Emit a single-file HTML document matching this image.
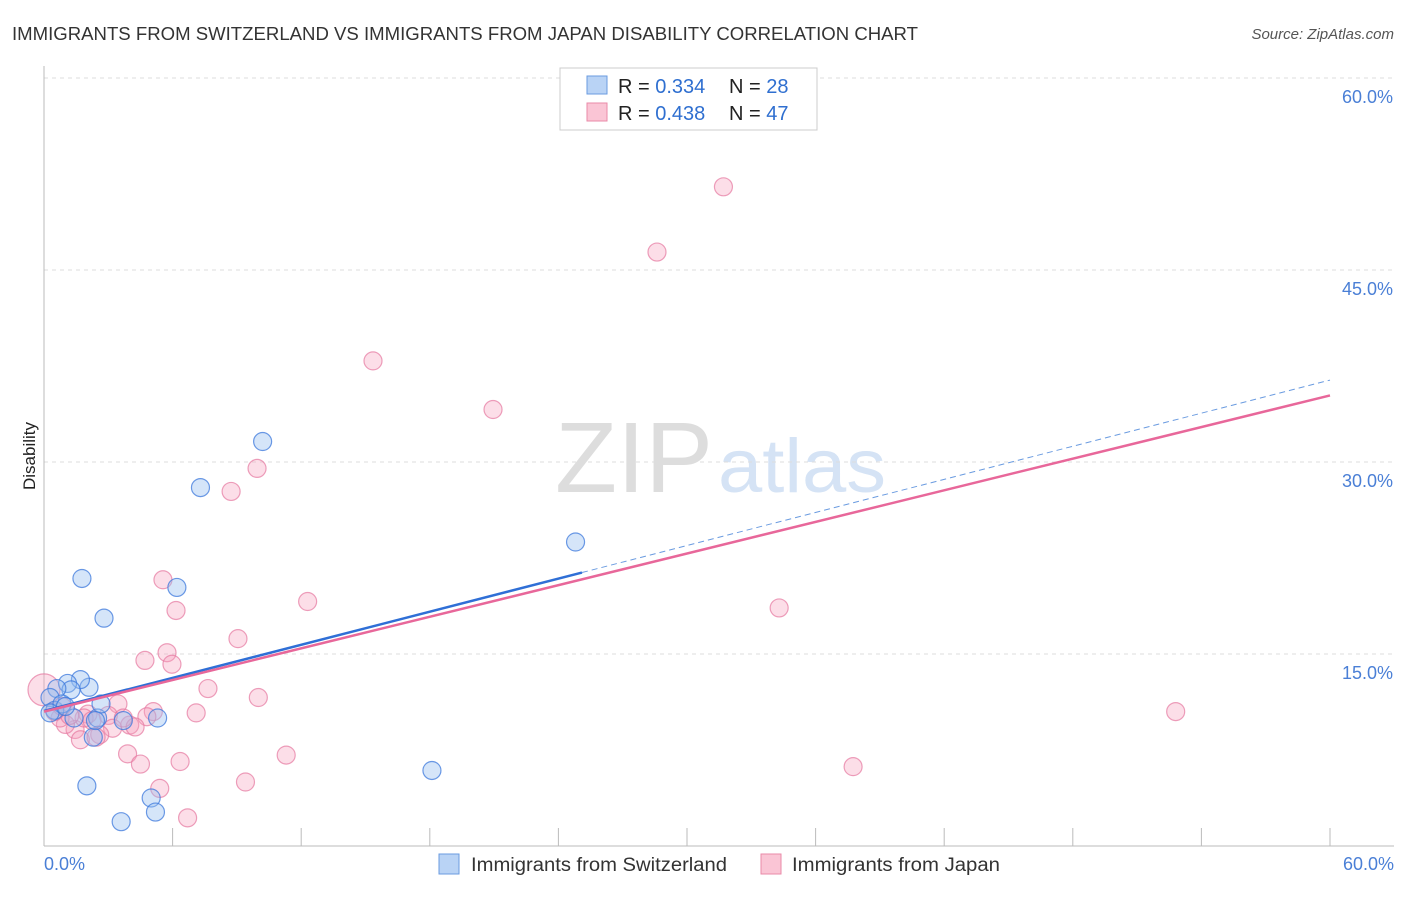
<!DOCTYPE html>
<html><head><meta charset="utf-8"><style>
body{margin:0;background:#fff;font-family:"Liberation Sans",sans-serif;}
svg text{font-family:"Liberation Sans",sans-serif;}
</style></head><body>
<svg width="1406" height="892" xmlns="http://www.w3.org/2000/svg">
<text x="12" y="40" font-size="18" fill="#333" textLength="906" lengthAdjust="spacingAndGlyphs">IMMIGRANTS FROM SWITZERLAND VS IMMIGRANTS FROM JAPAN DISABILITY CORRELATION CHART</text>
<text x="1394" y="39" font-size="15" fill="#555" font-style="italic" text-anchor="end">Source: ZipAtlas.com</text>
<text x="35" y="456" font-size="17" fill="#222" text-anchor="middle" transform="rotate(-90 35 456)">Disability</text>
<text x="713" y="492" font-size="100" fill="#ddd" text-anchor="end" font-family="Liberation Serif" textLength="158" lengthAdjust="spacingAndGlyphs">ZIP</text>
<text x="718" y="492" font-size="76" fill="#d5e3f5" textLength="168" lengthAdjust="spacingAndGlyphs">atlas</text>
<g id="grid"></g><g id="axes"></g><g id="pts"></g><g id="lines"></g>
<g>
<rect x="560" y="68" width="257" height="62" fill="#fff" stroke="#ccc"/>
<rect x="587" y="76" width="20" height="18" fill="#b9d3f5" stroke="#6a9be0"/>
<rect x="587" y="103" width="20" height="18" fill="#fac5d5" stroke="#e98aa8"/>
<text x="618" y="93" font-size="20" fill="#222">R = <tspan fill="#2f6fd0">0.334</tspan></text>
<text x="729" y="93" font-size="20" fill="#222">N = <tspan fill="#2f6fd0">28</tspan></text>
<text x="618" y="120" font-size="20" fill="#222">R = <tspan fill="#2f6fd0">0.438</tspan></text>
<text x="729" y="120" font-size="20" fill="#222">N = <tspan fill="#2f6fd0">47</tspan></text>
</g>
<g>
<rect x="439" y="854" width="20" height="20" fill="#b9d3f5" stroke="#6a9be0"/>
<text x="471" y="871" font-size="19" fill="#333" textLength="256" lengthAdjust="spacingAndGlyphs">Immigrants from Switzerland</text>
<rect x="761" y="854" width="20" height="20" fill="#fac5d5" stroke="#e98aa8"/>
<text x="792" y="871" font-size="19" fill="#333" textLength="208" lengthAdjust="spacingAndGlyphs">Immigrants from Japan</text>
</g>
</svg>
<script>
const yTicks=[15,30,45,60];
const yTickLabels=["15.0%","30.0%","45.0%","60.0%"];
const xTickLabels=["0.0%","60.0%"];
const swX=[1.77,2.8,6.2,7.3,10.2,24.8,18.1,2.0,3.6,5.0,5.2,5.3,3.7,2.3,2.5,2.1,1.7,1.1,1.26,0.6,0.28,0.5,0.84,1.4,2.66,0.28,2.4,1.0];
const swY=[20.9,17.8,20.2,28.0,31.6,23.75,5.9,4.7,1.9,3.75,2.65,10.0,9.8,8.5,10.0,12.4,13.0,12.7,12.2,12.3,11.6,10.6,11.1,10.0,11.1,10.4,9.8,10.9];
const jpX=[31.7,28.6,15.35,20.95,9.94,8.73,5.55,6.16,12.3,34.3,9.05,5.74,4.71,5.97,7.65,10.0,7.1,52.8,5.1,4.8,3.45,3.0,2.05,4.0,3.2,4.25,2.6,1.45,1.0,0.75,1.7,2.43,3.9,4.5,6.35,11.3,37.75,9.4,5.4,6.7,1.87,1.2,0.5,3.7,2.24,0.84,0];
const jpY=[51.5,46.4,37.9,34.1,29.5,27.7,20.8,18.4,19.1,18.6,16.2,15.1,14.5,14.2,12.3,11.6,10.4,10.5,10.5,10.1,11.1,10.2,10.3,9.45,9.2,9.3,8.7,9.1,9.5,10.0,8.3,8.5,7.2,6.4,6.6,7.1,6.2,5.0,4.5,2.2,10.0,10.2,10.5,10.0,9.8,10.9,12.2];
const swTrend=[10.55,36.4], swSolidEnd=25.1;
const jpTrend=[10.5,35.2];
const X=v=>44+v*(1286/60), Y=v=>846-v*12.8;
const NS="http://www.w3.org/2000/svg";
function mk(t,a,p){const e=document.createElementNS(NS,t);for(const k in a)e.setAttribute(k,a[k]);p.appendChild(e);return e;}
const grid=document.getElementById('grid'),axes=document.getElementById('axes'),pts=document.getElementById('pts'),lines=document.getElementById('lines');
yTicks.forEach((t,i)=>{
 const l=mk('line',{x1:44,x2:1394,y1:Y(t),y2:Y(t),stroke:'#ddd','stroke-dasharray':'4,4'},grid);
 
 
 const tx=mk('text',{x:1393,y:Y(t)+25,'font-size':18,fill:'#4a7fd6','text-anchor':'end'},axes);
 tx.textContent=yTickLabels[i];
 
 
});
const ax=mk('line',{x1:44,x2:44,y1:66,y2:846,stroke:'#bbb'},axes);


const bx=mk('line',{x1:44,x2:1394,y1:846,y2:846,stroke:'#bbb'},axes);


for(let i=0;i<=10;i++){const tk=mk('line',{x1:X(i*6),x2:X(i*6),y1:828,y2:846,stroke:'#bbb'},axes);
 
 }
[[0,44,'start'],[60,1394,'end']].forEach((d,i)=>{const tx=mk('text',{x:d[1],y:870,'font-size':18,fill:'#4a7fd6','text-anchor':d[2]},axes);tx.textContent=xTickLabels[i];
 
 });
jpX.forEach((v,i)=>{const c=mk('circle',{cx:X(v),cy:Y(jpY[i]),r:i==jpX.length-1?16:9,fill:'rgba(245,160,190,0.35)',stroke:'rgba(230,120,160,0.7)','stroke-width':1.2},pts);
 
 });
swX.forEach((v,i)=>{const c=mk('circle',{cx:X(v),cy:Y(swY[i]),r:9,fill:'rgba(150,190,240,0.4)',stroke:'rgba(60,120,220,0.75)','stroke-width':1.2},pts);
 
 });
const sf=x=>swTrend[0]+(swTrend[1]-swTrend[0])*x/60;
const l1=mk('line',{x1:X(0),y1:Y(sf(0)),x2:X(swSolidEnd),y2:Y(sf(swSolidEnd)),stroke:'#2f6fd6','stroke-width':2.5},lines);


const l2=mk('line',{x1:X(swSolidEnd),y1:Y(sf(swSolidEnd)),x2:X(60),y2:Y(sf(60)),stroke:'#6a9be0','stroke-width':1,'stroke-dasharray':'6,4'},lines);


const l3=mk('line',{x1:X(0),y1:Y(jpTrend[0]),x2:X(60),y2:Y(jpTrend[1]),stroke:'#e8679a','stroke-width':2.5},lines);


</script>
</body></html>
